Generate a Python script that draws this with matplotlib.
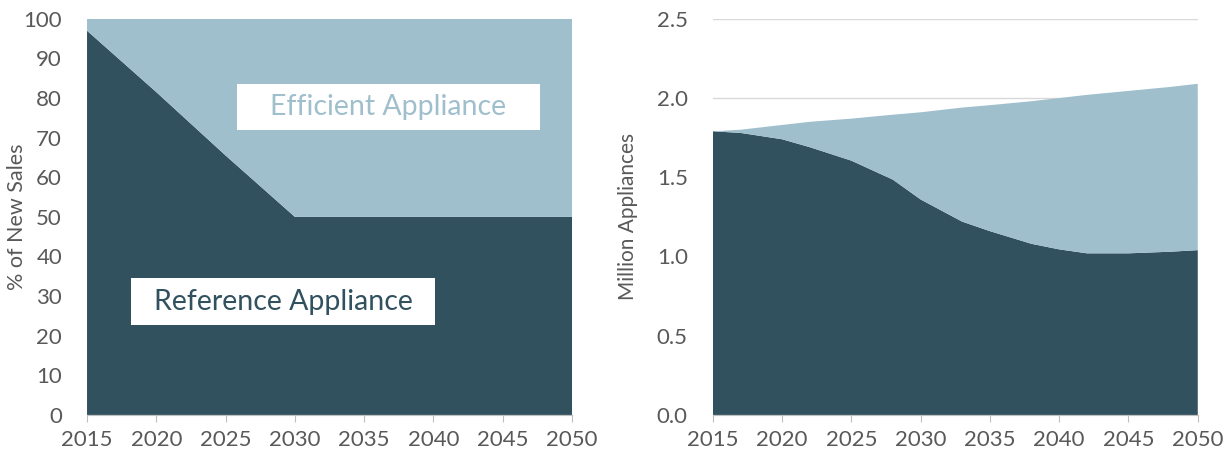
import numpy as np
import matplotlib.pyplot as plt
from matplotlib.patches import Rectangle

plt.rcParams['font.family'] = ['Lato', 'DejaVu Sans']

# Quota delle vendite nuove (%)
anni_quota = [2015, 2020, 2025, 2030, 2035, 2040, 2045, 2050]
quota_riferimento = [97, 81.5, 65.5, 50, 50, 50, 50, 50]
quota_efficiente = [3, 18.5, 34.5, 50, 50, 50, 50, 50]

# Stock di elettrodomestici (milioni)
anni_stock = [2015, 2017, 2020, 2022, 2025, 2028, 2030, 2033, 2035,
              2038, 2040, 2042, 2045, 2048, 2050]
stock_riferimento = [1.79, 1.78, 1.74, 1.69, 1.605, 1.485, 1.36, 1.22, 1.16,
                     1.08, 1.045, 1.02, 1.02, 1.03, 1.04]
stock_efficiente = [0.0, 0.02, 0.09, 0.16, 0.265, 0.41, 0.55, 0.72, 0.795,
                    0.90, 0.955, 1.0, 1.025, 1.04, 1.05]

scuro = '#31515f'
chiaro = '#9fbfcd'
grigio = '#595959'

fig = plt.figure(figsize=(12.31, 4.59), dpi=100)
ax1 = fig.add_axes([0.0707, 0.096, 0.394, 0.863])
ax2 = fig.add_axes([0.579, 0.096, 0.394, 0.863])

# Grafico a sinistra
ax1.stackplot(anni_quota, quota_riferimento, quota_efficiente,
              colors=[scuro, chiaro], linewidth=0)
ax1.set_xlim(2015, 2050)
ax1.set_ylim(0, 100)
ax1.set_yticks(range(0, 101, 10))
ax1.set_ylabel('% of New Sales', color=grigio, fontsize=15.5)
ax1.yaxis.set_label_coords(-0.124, 0.5)

# Etichette nei riquadri bianchi
ax1.add_patch(Rectangle((2025.8, 72), 21.9, 11.6, facecolor='white',
                        edgecolor='none', zorder=3))
ax1.text(2036.75, 77.8, 'Efficient Appliance', color=chiaro, fontsize=20.5,
         ha='center', va='center', zorder=4)
ax1.add_patch(Rectangle((2018.2, 22.7), 21.9, 11.9, facecolor='white',
                        edgecolor='none', zorder=3))
ax1.text(2029.15, 28.6, 'Reference Appliance', color=scuro, fontsize=20.5,
         ha='center', va='center', zorder=4)

# Grafico a destra
ax2.set_axisbelow(True)
ax2.grid(axis='y', color='#d9d9d9', linewidth=1)
ax2.stackplot(anni_stock, stock_riferimento, stock_efficiente,
              colors=[scuro, chiaro], linewidth=0)
ax2.set_xlim(2015, 2050)
ax2.set_ylim(0, 2.5)
ax2.set_yticks(np.arange(0, 2.51, 0.5))
ax2.set_yticklabels([f'{v:.1f}' for v in np.arange(0, 2.51, 0.5)])
ax2.set_ylabel('Million Appliances', color=grigio, fontsize=15)
ax2.yaxis.set_label_coords(-0.155, 0.5)

for ax in (ax1, ax2):
    ax.set_xticks(range(2015, 2051, 5))
    for s in ('top', 'right', 'left'):
        ax.spines[s].set_visible(False)
    ax.spines['bottom'].set_color('#bfbfbf')
    ax.tick_params(axis='x', colors='#bfbfbf', length=5, labelcolor=grigio,
                   labelsize=16, pad=6)
    ax.tick_params(axis='y', length=0, labelcolor=grigio, labelsize=16,
                   pad=18)

fig.savefig('out.png', dpi=100)
